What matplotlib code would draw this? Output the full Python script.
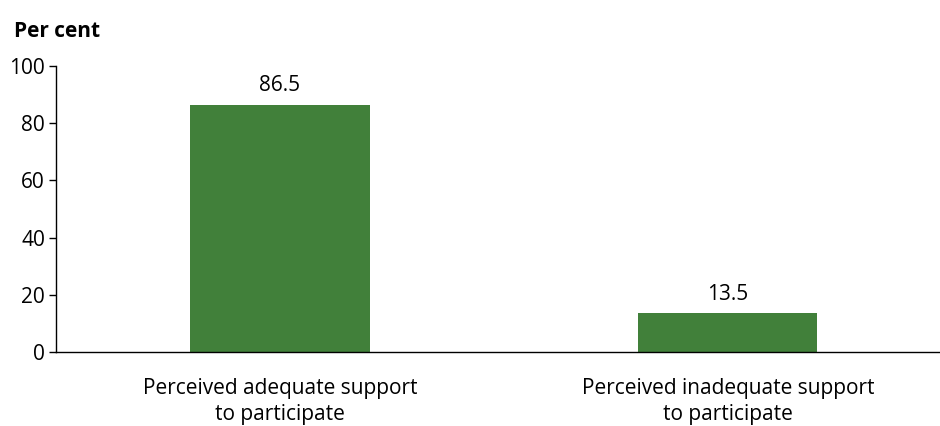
import matplotlib.pyplot as plt

plt.rcParams['font.family'] = ['Open Sans', 'DejaVu Sans']

categories = ['Perceived adequate support\nto participate',
              'Perceived inadequate support\nto participate']
values = [86.5, 13.5]
yticks = [0, 20, 40, 60, 80, 100]

fig = plt.figure(figsize=(9.4, 4.26), dpi=100)
ax = fig.add_axes([0.0596, 0.1737, 0.953, 0.671])

x = range(len(categories))
bars = ax.bar(x, values, width=0.40, color='#41803a')
for b, v in zip(bars, values):
    ax.text(b.get_x() + b.get_width() / 2, v + 3.0, f'{v:.1f}',
            ha='center', va='bottom', fontsize=15)

ax.set_xlim(-0.5, 1.5)
ax.set_ylim(0, 100)
ax.set_yticks(yticks)
ax.set_xticks(list(x))
ax.set_xticklabels(categories, fontsize=15, linespacing=1.3)
ax.tick_params(axis='x', length=0, pad=19)
ax.tick_params(axis='y', length=5, width=1, labelsize=15, pad=3)
ax.spines['top'].set_visible(False)
ax.spines['right'].set_visible(False)
ax.spines['left'].set_linewidth(1)
ax.spines['bottom'].set_linewidth(1)

fig.text(0.015, 0.925, 'Per cent', fontsize=15, fontweight='bold',
         ha='left', va='center')

fig.savefig('out.png', dpi=100)
